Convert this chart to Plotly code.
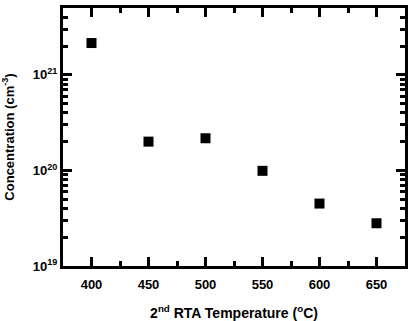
import plotly.graph_objects as go

temps = [400, 450, 500, 550, 600, 650]
conc = [2.15e21, 2.0e20, 2.17e20, 9.9e19, 4.5e19, 2.8e19]

y_tickvals = [1e19, 1e20, 1e21]
y_ticktext = ["10<sup>19</sup>", "10<sup>20</sup>", "10<sup>21</sup>"]
x_tickvals = [400, 450, 500, 550, 600, 650]
x_minor = [425, 475, 525, 575, 625]
y_minor = [float(m) * 10.0**e for e in (19, 20, 21) for m in range(2, 10) if m * 10.0**e <= 5e21]

X_RANGE = [375, 675]
Y_RANGE = [19, 21.699]  # log10

fig = go.Figure()
fig.add_trace(go.Scatter(x=temps, y=conc, mode="markers",
                         marker=dict(symbol="square", size=10, color="black"),
                         showlegend=False))


def big(t, size=13):
    return f'<span style="font-size:{size}px"><b>{t}</b></span>'


fig.update_layout(
    width=413, height=321,
    margin=dict(l=63, r=8, t=8, b=55),
    plot_bgcolor="white", paper_bgcolor="white",
    font=dict(family="Liberation Sans", color="black", size=13),
)
fig.update_xaxes(range=X_RANGE, tickmode="array", tickvals=x_tickvals,
                 ticktext=[big(v) for v in x_tickvals],
                 ticks="inside", ticklen=9, tickwidth=3, tickcolor="black",
                 minor=dict(ticks="inside", tickmode="array", tickvals=x_minor,
                            ticklen=5, tickwidth=3, tickcolor="black"),
                 showline=True, linewidth=3, linecolor="black", mirror="allticks",
                 showgrid=False, zeroline=False, ticklabelstandoff=4, automargin=False,
                 title_text="<b>2<sup>nd</sup> RTA Temperature (<sup>o</sup>C)</b>",
                 title_font_size=14, title_standoff=22)
fig.update_yaxes(type="log", range=Y_RANGE, tickmode="array", tickvals=y_tickvals,
                 ticktext=[big(t) for t in y_ticktext],
                 ticks="inside", ticklen=9, tickwidth=3, tickcolor="black",
                 minor=dict(ticks="inside", tickmode="array", tickvals=y_minor,
                            ticklen=5, tickwidth=3, tickcolor="black"),
                 showline=True, linewidth=3, linecolor="black", mirror="allticks",
                 showgrid=False, zeroline=False, ticklabelstandoff=0, automargin=False,
                 title_text="<b>Concentration (cm<sup>-3</sup>)</b>",
                 title_font_size=13, title_standoff=16)
fig.write_html("out.html")
